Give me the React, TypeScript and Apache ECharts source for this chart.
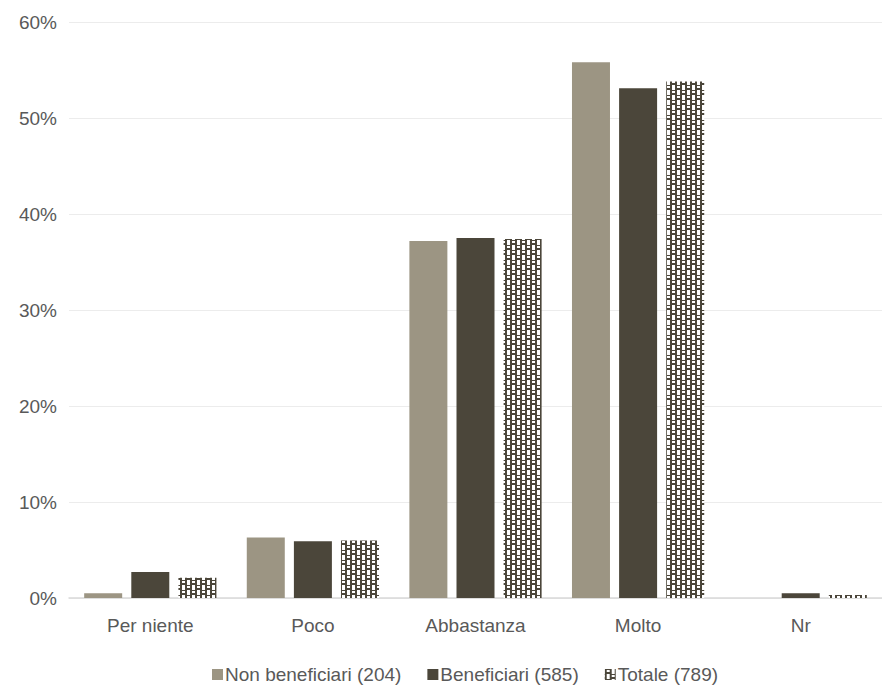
import React, { useEffect, useRef } from "react";
import * as echarts from "echarts";

const categories = ["Per niente", "Poco", "Abbastanza", "Molto", "Nr"];
const nonBeneficiari = [0.5, 6.3, 37.2, 55.8, 0];
const beneficiari = [2.7, 5.9, 37.5, 53.1, 0.5];
const totale = [2.1, 6.0, 37.4, 53.8, 0.3];
const seriesNames = ["Non beneficiari (204)", "Beneficiari (585)", "Totale (789)"];
const yTicks = [0, 10, 20, 30, 40, 50, 60];

const FONT = "'Liberation Sans', Arial, sans-serif";
const DARK = "#4b463a";

function makePattern(): HTMLCanvasElement {
  const W = 10, H = 10;
  const c = document.createElement("canvas");
  c.width = W;
  c.height = H;
  const ctx = c.getContext("2d")!;
  ctx.fillStyle = "#ffffff";
  ctx.fillRect(0, 0, W, H);
  ctx.fillStyle = DARK;
  ctx.fillRect(0, 0, 7, 5);
  ctx.fillRect(5, 5, 5, 5);
  ctx.fillRect(0, 5, 2, 5);
  ctx.fillStyle = "#ffffff";
  ctx.fillRect(2, 1, 3, 2);
  ctx.fillRect(7, 6, 3, 2);
  return c;
}

export default function App() {
  const ref = useRef<HTMLDivElement>(null);
  useEffect(() => {
    document.body.style.margin = "0";
    const chart = echarts.init(ref.current!, undefined, { renderer: "svg" });
    const pat = { image: makePattern(), repeat: "repeat", imageWidth: 10, imageHeight: 10 };
    const barCommon = { barWidth: 38, barGap: "24%" };
    chart.setOption({
      animation: false,
      textStyle: { fontFamily: FONT },
      grid: { left: 69, right: -7, top: 22, bottom: 95 },
      legend: {
        bottom: 4,
        left: 207,
        itemWidth: 11,
        itemHeight: 11,
        itemGap: 26,
        icon: "rect",
        textStyle: { fontFamily: FONT, fontSize: 19, color: "#595959", padding: [0, 0, 0, -3] },
        data: seriesNames,
      },
      xAxis: {
        type: "category",
        data: categories,
        axisLine: { lineStyle: { color: "#d9d9d9", width: 1.5 } },
        axisTick: { show: false },
        axisLabel: { fontFamily: FONT, fontSize: 19, color: "#595959", margin: 18 },
      },
      yAxis: {
        type: "value",
        min: yTicks[0],
        max: yTicks[yTicks.length - 1],
        interval: 10,
        axisLine: { show: false },
        axisTick: { show: false },
        splitLine: { lineStyle: { color: "#ececec", width: 1 } },
        axisLabel: { fontFamily: FONT, fontSize: 19, color: "#595959", formatter: "{value}%", margin: 12 },
      },
      series: [
        { name: seriesNames[0], type: "bar", data: nonBeneficiari, itemStyle: { color: "#9c9583" }, ...barCommon },
        { name: seriesNames[1], type: "bar", data: beneficiari, itemStyle: { color: DARK }, ...barCommon },
        { name: seriesNames[2], type: "bar", data: totale, itemStyle: { color: pat }, ...barCommon },
      ],
    });
    return () => chart.dispose();
  }, []);
  return <div ref={ref} style={{ position: "absolute", left: 0, top: 0, width: 882, height: 693 }} />;
}
